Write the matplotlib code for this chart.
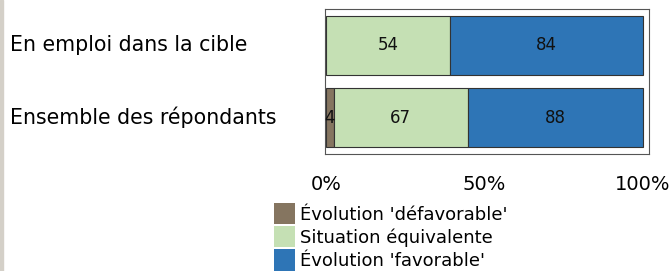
import matplotlib.pyplot as plt
import matplotlib.transforms as mtransforms
import numpy as np
from matplotlib.patches import Patch, Rectangle

# donnees (effectifs)
categories = ["En emploi dans la cible", "Ensemble des répondants"]
defavorable = [0, 4]
equivalente = [54, 67]
favorable = [84, 88]
series_labels = ["Évolution 'défavorable'", "Situation équivalente", "Évolution 'favorable'"]
colors = ["#857560", "#c5e0b4", "#2e75b6"]
tick_vals = [0, 0.5, 1.0]
tick_labels = ["0%", "50%", "100%"]

fig = plt.figure(figsize=(6.72, 2.71), dpi=100)
ax = fig.add_axes([325 / 672, 1 - 154 / 271, 324 / 672, 145 / 271])

data = np.array([defavorable, equivalente, favorable], dtype=float)
totals = data.sum(axis=0)
shares = data / totals
y = np.arange(len(categories))[::-1]

left = np.zeros(len(categories))
for i in range(3):
    ax.barh(y, shares[i], left=left, height=0.82, color=colors[i],
            edgecolor="#333333", linewidth=0.8)
    for j in range(len(categories)):
        if data[i, j] > 0:
            ax.text(left[j] + shares[i, j] / 2, y[j], "%d" % data[i, j],
                    ha="center", va="center", fontsize=12, color="#111111")
    left += shares[i]

ax.set_xlim(-0.003, 1.019)
ax.set_ylim(-0.5, 1.5)
ax.set_xticks(tick_vals)
ax.set_xticklabels(tick_labels, fontsize=14)
ax.tick_params(axis="x", length=0, pad=15)
ax.set_yticks([])
for s in ax.spines.values():
    s.set_color("#555555")
    s.set_linewidth(0.8)

# libelles des categories, alignes a gauche
trans = mtransforms.blended_transform_factory(fig.transFigure, ax.transData)
for j, cat in enumerate(categories):
    fig.text(10 / 672, y[j], cat, transform=trans, ha="left", va="center",
             fontsize=14.8)

handles = [Patch(facecolor=c, edgecolor="none") for c in colors]
fig.legend(handles, series_labels, loc="upper left",
           bbox_to_anchor=(272 / 672, 1 - 201 / 271), frameon=False,
           fontsize=13, handlelength=1.15, handleheight=1.45,
           labelspacing=0.1, handletextpad=0.3, borderpad=0.1,
           borderaxespad=0)

# liseré gris a gauche
fig.patches.append(Rectangle((0, 0), 2.5 / 672, 1, transform=fig.transFigure,
                             color="#d4d0c8", zorder=0))

fig.savefig("out.png", dpi=100)
